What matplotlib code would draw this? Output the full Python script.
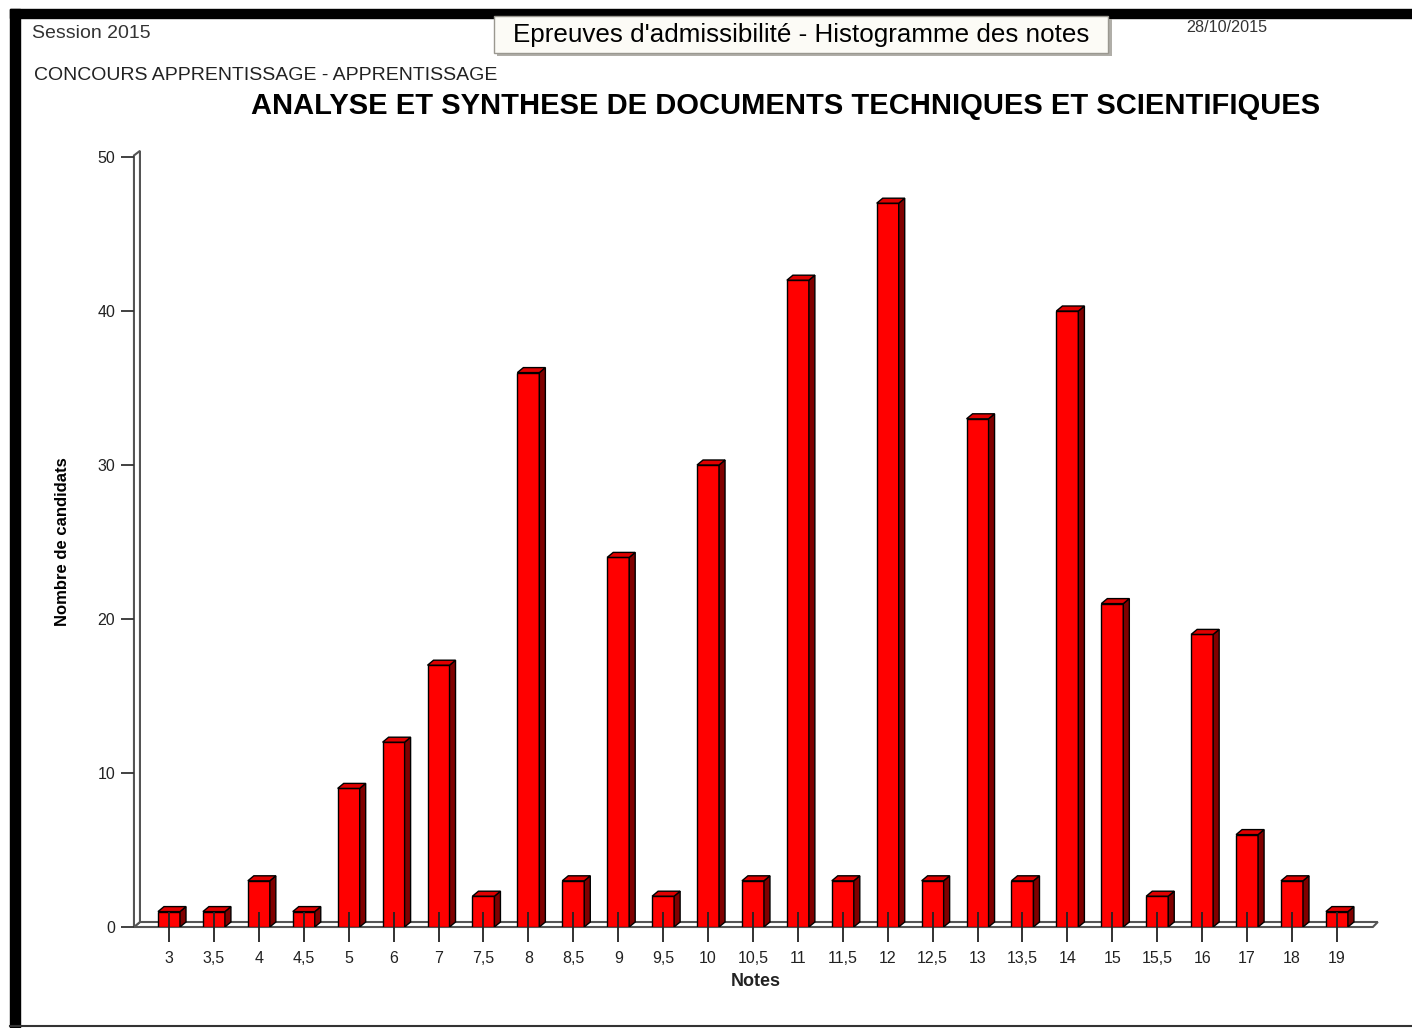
import matplotlib.pyplot as plt
from matplotlib.patches import Rectangle, Polygon

plt.rcParams['font.family'] = ['Liberation Sans', 'DejaVu Sans']

notes = ["3", "3,5", "4", "4,5", "5", "6", "7", "7,5", "8", "8,5", "9", "9,5", "10",
         "10,5", "11", "11,5", "12", "12,5", "13", "13,5", "14", "15", "15,5", "16",
         "17", "18", "19"]
candidats = [1, 1, 3, 1, 9, 12, 17, 2, 36, 3, 24, 2, 30, 3, 42, 3, 47, 3, 33, 3,
             40, 21, 2, 19, 6, 3, 1]
yticks = [0, 10, 20, 30, 40, 50]

W, H = 1412, 1028
fig = plt.figure(figsize=(W / 100, H / 100), dpi=100)

# fond : cadre noir + textes d'en-tete (coordonnees pixels)
bg = fig.add_axes([0, 0, 1, 1])
bg.set_xlim(0, W)
bg.set_ylim(H, 0)
bg.axis("off")
bg.add_patch(Rectangle((10, 9), W - 10, 9, color="black"))
bg.add_patch(Rectangle((10, 9), 10, H - 9, color="black"))
bg.plot([10, W], [1026, 1026], color="#333333", lw=1.5)

bg.text(32, 34, "Session 2015", fontsize=14, color="#333333", va="center")
bg.add_patch(Rectangle((497, 19), 615, 37, facecolor="#b0aea8", edgecolor="none"))
bg.add_patch(Rectangle((494, 16), 614, 37, facecolor="#fcfbf6", edgecolor="#9a9890", lw=1))
bg.text(801, 35, "Epreuves d'admissibilité - Histogramme des notes", fontsize=18.7,
        color="black", ha="center", va="center")
bg.text(1186, 28, "28/10/2015", fontsize=11.6, color="#333333", va="center")
bg.text(34, 76, "CONCOURS APPRENTISSAGE - APPRENTISSAGE", fontsize=14,
        color="#222222", va="center")
bg.text(786, 106, "ANALYSE ET SYNTHESE DE DOCUMENTS TECHNIQUES ET SCIENTIFIQUES",
        fontsize=21, fontweight="bold", color="black", ha="center", va="center")

# axes du graphique
x0px, pxu = 169, 44.92
xl, xr = -0.78, 26.91
ax = fig.add_axes([(x0px + xl * pxu) / W, (H - 927) / H,
                   (xr - xl) * pxu / W, 770 / H])
ax.patch.set_visible(False)
ax.set_xlim(xl, xr)
ax.set_ylim(0, 50)
for s in ax.spines.values():
    s.set_visible(False)

dx, dy = 6 / pxu, 5 / 15.4
hw = 11 / pxu

# sol et mur en pseudo 3D
ax.add_patch(Polygon([(xl, 0), (26.80, 0), (xr, dy), (xl + dx, dy)], closed=True,
                     facecolor="white", edgecolor="#555555", lw=1.5, clip_on=False, zorder=1))
ax.add_patch(Polygon([(xl, 0), (xl, 50.1), (xl + dx, 50.4), (xl + dx, dy)], closed=True,
                     facecolor="white", edgecolor="#555555", lw=1.5, clip_on=False, zorder=1))

for i, v in enumerate(candidats):
    ax.add_patch(Rectangle((i - hw, 0), 2 * hw, v, facecolor="#ff0000",
                           edgecolor="black", lw=1, zorder=2))
    ax.add_patch(Polygon([(i + hw, 0), (i + hw + dx, dy), (i + hw + dx, v + dy), (i + hw, v)],
                         closed=True, facecolor="#800000", edgecolor="black", lw=1, zorder=2))
    ax.add_patch(Polygon([(i - hw, v), (i + hw, v), (i + hw + dx, v + dy), (i - hw + dx, v + dy)],
                         closed=True, facecolor="#e00000", edgecolor="black", lw=1, zorder=2))

ax.set_axisbelow(False)
ax.set_xticks(range(len(notes)))
ax.set_xticklabels(notes, fontsize=11.5, color="#222222")
ax.tick_params(axis="x", direction="inout", length=21, width=1.3, color="#222222", pad=7)
ax.set_yticks(yticks)
ax.set_yticklabels([str(t) for t in yticks], fontsize=11.5, color="#222222")
ax.tick_params(axis="y", direction="out", length=9.5, width=1.3, color="#333333", pad=4)

ax.set_xlabel("Notes", fontsize=13, fontweight="bold", color="#222222", labelpad=5)
ax.set_ylabel("Nombre de candidats", fontsize=12, fontweight="bold", color="black",
              labelpad=20)

fig.savefig("out.png", dpi=100)
